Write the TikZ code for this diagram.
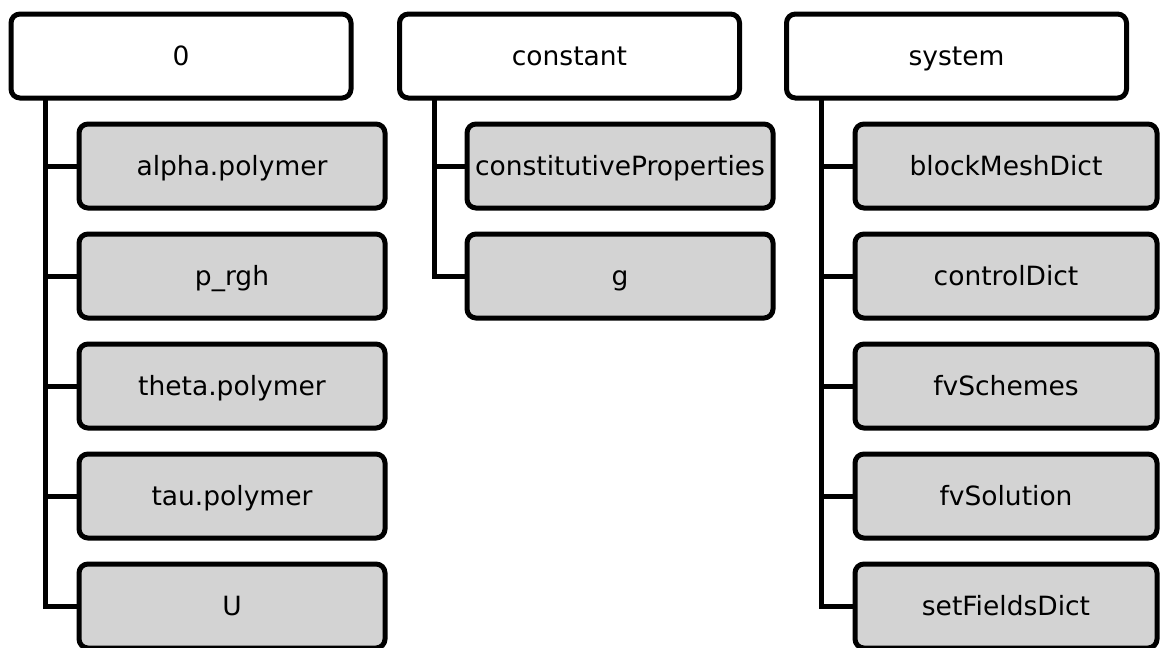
\documentclass[tikz,border=0pt]{standalone}
\usepackage{fontspec}
\setmainfont{DejaVu Sans}
\definecolor{filegray}{RGB}{211,211,211}
\begin{document}
\begin{tikzpicture}[x=1pt,y=-1pt,
  every node/.style={inner sep=0pt,outer sep=0pt,text height=20pt,text depth=2pt,
                     font=\fontsize{26.5}{30}\selectfont},
  dirbox/.style={draw=black,line width=5pt,rounded corners=9pt,fill=white,
                 minimum width=340pt,minimum height=84pt},
  filebox/.style={draw=black,line width=5pt,rounded corners=9pt,fill=filegray,
                  minimum width=306pt,minimum height=84pt},
  branch/.style={draw=black,line width=5pt}]
\useasboundingbox (0,0) rectangle (1160,648);

% directory boxes
\node[dirbox] (d0) at (181,56) {0};
\node[dirbox] (dc) at (569.5,56) {constant};
\node[dirbox] (ds) at (956.5,56) {system};

% contents of 0
\node[filebox] (f01) at (232,166) {alpha.polymer};
\node[filebox] (f02) at (232,276) {p\_rgh};
\node[filebox] (f03) at (232,386) {theta.polymer};
\node[filebox] (f04) at (232,496) {tau.polymer};
\node[filebox] (f05) at (232,606) {U};

% contents of constant
\node[filebox] (fc1) at (620,166) {constitutiveProperties};
\node[filebox] (fc2) at (620,276) {g};

% contents of system
\node[filebox,minimum width=302pt] (fs1) at (1006,166) {blockMeshDict};
\node[filebox,minimum width=302pt] (fs2) at (1006,276) {controlDict};
\node[filebox,minimum width=302pt] (fs3) at (1006,386) {fvSchemes};
\node[filebox,minimum width=302pt] (fs4) at (1006,496) {fvSolution};
\node[filebox,minimum width=302pt] (fs5) at (1006,606) {setFieldsDict};

% tree connectors
\foreach \c in {f01,f02,f03,f04,f05}
  \draw[branch] ([xshift=34.5pt]d0.south west) |- (\c.west);
\foreach \c in {fc1,fc2}
  \draw[branch] ([xshift=34.5pt]dc.south west) |- (\c.west);
\foreach \c in {fs1,fs2,fs3,fs4,fs5}
  \draw[branch] ([xshift=34.5pt]ds.south west) |- (\c.west);
\end{tikzpicture}
\end{document}
